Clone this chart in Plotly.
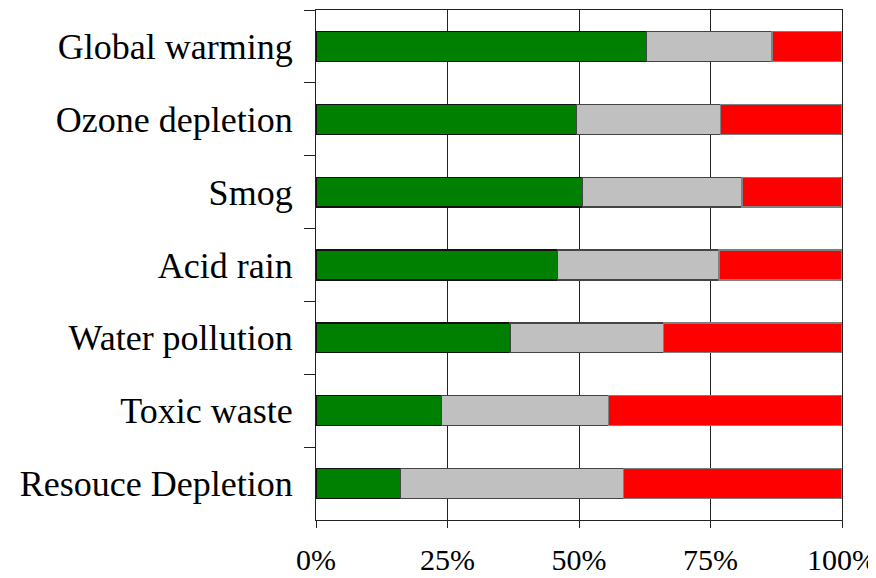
import plotly.graph_objects as go

categories = ["Global warming", "Ozone depletion", "Smog", "Acid rain",
              "Water pollution", "Toxic waste", "Resouce Depletion"]
green_vals = [62.9, 49.5, 50.7, 45.9, 36.9, 23.9, 16.1]
gray_vals = [23.8, 27.4, 30.3, 30.7, 29.1, 31.7, 42.3]
red_vals = [13.3, 23.1, 19.0, 23.4, 34.0, 44.4, 41.6]
x_ticks = [0, 25, 50, 75, 100]
x_tick_labels = ["0%", "25%", "50%", "75%", "100%"]

fig = go.Figure()
fig.add_trace(go.Bar(y=categories, x=green_vals, orientation="h", width=0.41,
                     marker=dict(color="#008000", line=dict(color="#111111", width=1.2))))
fig.add_trace(go.Bar(y=categories, x=gray_vals, orientation="h", width=0.41,
                     marker=dict(color="#C0C0C0", line=dict(color="#444444", width=1.2))))
fig.add_trace(go.Bar(y=categories, x=red_vals, orientation="h", width=0.41,
                     marker=dict(color="#FF0000", line=dict(color="#808080", width=1.2))))

# The page body adds an 8px offset; margins compensate so the plot lands where the reference has it.
fig.update_layout(
    barmode="stack",
    width=876, height=578,
    margin=dict(l=308, r=42, t=2, b=66, autoexpand=False),
    paper_bgcolor="white", plot_bgcolor="white",
    showlegend=False,
    font=dict(family="Liberation Serif, Times New Roman, serif", color="black"),
)
fig.update_xaxes(
    range=[0, 100], tickvals=x_ticks, ticktext=x_tick_labels,
    showgrid=True, gridcolor="#222222", gridwidth=1.3,
    showline=True, linecolor="#222222", linewidth=1.3, mirror=True,
    ticks="outside", ticklen=7, tickcolor="#222222", tickwidth=1.3,
    tickfont=dict(size=30), zeroline=False, ticklabelstandoff=6,
    automargin=False,
)
fig.update_yaxes(
    categoryorder="array", categoryarray=categories, autorange="reversed",
    showgrid=False, showline=True, linecolor="#222222", linewidth=1.3, mirror=True,
    ticks="outside", ticklen=11, tickcolor="#222222", tickwidth=1.3,
    tickson="boundaries", tickfont=dict(size=36), ticklabelstandoff=15,
    automargin=False,
)

fig.write_html("out.html")
